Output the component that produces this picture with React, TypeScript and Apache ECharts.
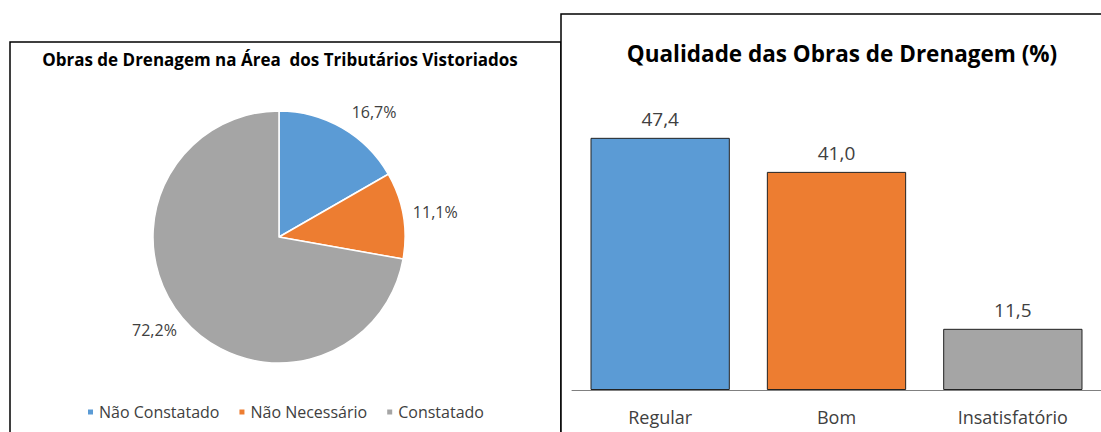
import React, { useEffect, useRef } from "react";
import * as echarts from "echarts";

const pieCategories = ["Não Constatado", "Não Necessário", "Constatado"];
const pieValues = [16.7, 11.1, 72.2];
const barCategories = ["Regular", "Bom", "Insatisfatório"];
const barValues = [47.4, 41.0, 11.5];
const colors = ["#5B9BD5", "#ED7D31", "#A5A5A5"];
const pieLabelGap = [0, -9, -9];

const FONT = "'Open Sans', 'Noto Sans', sans-serif";
const fmt = (v: number) => v.toFixed(1).replace(".", ",");

export default function App() {
  const ref = useRef<HTMLDivElement>(null);
  useEffect(() => {
    if (!ref.current) return;
    const chart = echarts.init(ref.current, null, { renderer: "svg" });
    chart.setOption({
      animation: false,
      backgroundColor: "#ffffff",
      textStyle: { fontFamily: FONT },
      graphic: [
        {
          type: "rect",
          z: -10,
          shape: { x: 10, y: 42, width: 551, height: 420 },
          style: { fill: "#fff", stroke: "#000", lineWidth: 1.5 },
        },
        {
          type: "rect",
          z: -9,
          shape: { x: 561, y: 14, width: 560, height: 440 },
          style: { fill: "#fff", stroke: "#000", lineWidth: 1.5 },
        },
      ],
      title: [
        {
          text: "Obras de Drenagem na Área  dos Tributários Vistoriados",
          left: 275,
          top: 46,
          textAlign: "center",
          textStyle: { fontFamily: FONT, fontSize: 17, fontWeight: "bold", color: "#000" },
        },
        {
          text: "Qualidade das Obras de Drenagem (%)",
          left: 837,
          top: 37,
          textAlign: "center",
          textStyle: { fontFamily: FONT, fontSize: 22.5, fontWeight: "bold", color: "#000" },
        },
      ],
      legend: {
        data: pieCategories,
        left: 81,
        top: 399,
        icon: "rect",
        itemWidth: 7,
        itemHeight: 7,
        itemGap: 18,
        textStyle: { fontFamily: FONT, fontSize: 16, color: "#404040" },
      },
      grid: { left: 572, right: -2, top: 124, bottom: 42 },
      xAxis: {
        type: "category",
        data: barCategories,
        axisLine: { lineStyle: { color: "#808080", width: 1 } },
        axisTick: { alignWithLabel: true, length: 5, lineStyle: { color: "#808080" } },
        axisLabel: { fontFamily: FONT, fontSize: 18, color: "#404040", margin: 18 },
      },
      yAxis: { type: "value", min: 0, max: 50, show: false, splitLine: { show: false } },
      series: [
        {
          type: "pie",
          center: [279, 237],
          radius: 126,
          startAngle: 90,
          clockwise: true,
          data: pieCategories.map((n, i) => ({
            name: n,
            value: pieValues[i],
            itemStyle: { color: colors[i] },
            label: { distanceToLabelLine: pieLabelGap[i] },
          })),
          itemStyle: { borderColor: "#fff", borderWidth: 1.5 },
          label: {
            show: true,
            position: "outside",
            formatter: (p: any) => fmt(p.value) + "%",
            fontFamily: FONT,
            fontSize: 16,
            color: "#404040",
          },
          labelLine: { show: false, length: 19, length2: 0 },
        },
        {
          type: "bar",
          data: barValues.map((v, i) => ({ value: v, itemStyle: { color: colors[i] } })),
          barCategoryGap: "21%",
          itemStyle: { borderColor: "#222", borderWidth: 1 },
          label: {
            show: true,
            position: "top",
            distance: 9,
            formatter: (p: any) => fmt(p.value),
            fontFamily: FONT,
            fontSize: 19,
            color: "#404040",
          },
        },
      ],
    });
    return () => chart.dispose();
  }, []);
  return (
    <div
      ref={ref}
      style={{ position: "absolute", left: 0, top: 0, width: 1101, height: 432 }}
    />
  );
}
